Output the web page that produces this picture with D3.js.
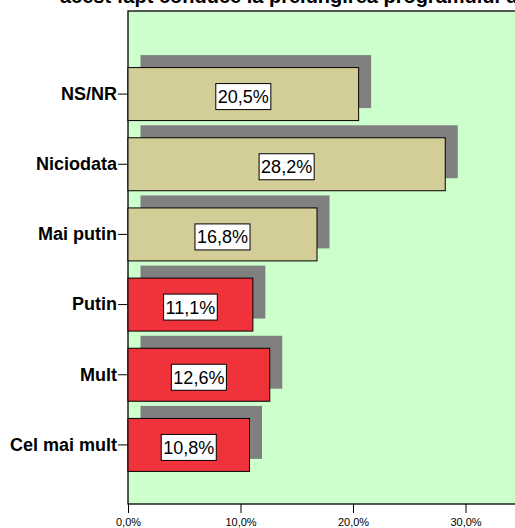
<!DOCTYPE html>
<html>
<head>
<meta charset="utf-8">
<script src="https://cdn.jsdelivr.net/npm/d3@7"></script>
<style>
  body { margin: 0; background: #fff; }
  svg { display: block; font-family: Arial, "Liberation Sans", sans-serif; }
</style>
</head>
<body>
<div id="wrapper"></div>
<script>
const categories = ["NS/NR", "Niciodata", "Mai putin", "Putin", "Mult", "Cel mai mult"]
const values = [20.5, 28.2, 16.8, 11.1, 12.6, 10.8]
const barColors = ["#d3ce97", "#d3ce97", "#d3ce97", "#f0333b", "#f0333b", "#f0333b"]
const xTicks = [0, 10, 20, 30]
const titleText = "acest fapt conduce la prelungirea programului de lucru?"

function drawBarChart() {
    const dimensions = {
        width: 515,
        height: 528,
        margins: { top: 11, right: -60, bottom: 24, left: 128 }
    }
    dimensions.boundedWidth = dimensions.width - dimensions.margins.left - dimensions.margins.right
    dimensions.boundedHeight = dimensions.height - dimensions.margins.top - dimensions.margins.bottom

    const wrapper = d3.select("#wrapper")
        .append("svg")
            .attr("width", dimensions.width)
            .attr("height", dimensions.height)

    const fmt = v => d3.format(".1f")(v).replace(".", ",") + "%"

    // title, mostly cut off at the top like the source
    wrapper.append("text")
        .attr("x", 60)
        .attr("y", 3)
        .attr("font-size", 20)
        .attr("font-weight", "bold")
        .text(titleText)

    const bounds = wrapper.append("g")
        .attr("transform", `translate(${dimensions.margins.left},${dimensions.margins.top})`)

    const xScale = d3.scaleLinear()
        .domain([0, 1])
        .range([0, 1125])

    const yScale = d3.scaleBand()
        .domain(categories)
        .range([48, 469])
        .paddingInner(0.245)
        .paddingOuter(0.1225)

    bounds.append("rect")
        .attr("width", dimensions.boundedWidth)
        .attr("height", dimensions.boundedHeight)
        .attr("fill", "#ccffcc")
        .attr("stroke", "#000")
        .attr("stroke-width", 1.3)

    const shadow = 12.5
    bounds.selectAll(".shadow")
        .data(values)
        .join("rect")
            .attr("class", "shadow")
            .attr("x", shadow)
            .attr("y", (d, i) => yScale(categories[i]) - shadow)
            .attr("width", d => xScale(d / 100))
            .attr("height", yScale.bandwidth())
            .attr("fill", "#808080")

    bounds.selectAll(".bar")
        .data(values)
        .join("rect")
            .attr("class", "bar")
            .attr("x", 0)
            .attr("y", (d, i) => yScale(categories[i]))
            .attr("width", d => xScale(d / 100))
            .attr("height", yScale.bandwidth())
            .attr("fill", (d, i) => barColors[i])
            .attr("stroke", "#000")
            .attr("stroke-width", 1)

    const labels = bounds.selectAll(".lbl")
        .data(values)
        .join("g")
            .attr("class", "lbl")
            .attr("transform", (d, i) =>
                `translate(${xScale(d / 100) / 2},${yScale(categories[i]) + yScale.bandwidth() / 2 + 2.5})`)

    labels.append("text")
        .attr("text-anchor", "middle")
        .attr("dy", "0.36em")
        .attr("font-size", 18)
        .text(fmt)

    labels.each(function() {
        const g = d3.select(this)
        const bb = g.select("text").node().getBBox()
        g.insert("rect", "text")
            .attr("x", bb.x - 2)
            .attr("y", -13)
            .attr("width", bb.width + 4)
            .attr("height", 26)
            .attr("fill", "#fff")
            .attr("stroke", "#000")
            .attr("stroke-width", 1)
    })

    const yAxisGenerator = d3.axisLeft(yScale)
        .tickSize(10)
        .tickPadding(1)
    const yAxis = bounds.append("g")
        .call(yAxisGenerator)
    yAxis.select(".domain").remove()
    yAxis.selectAll("text")
        .attr("font-size", 18)
        .attr("font-weight", "bold")
        .attr("fill", "#000")
        .attr("font-family", "Arial, 'Liberation Sans', sans-serif")

    const xAxisGenerator = d3.axisBottom(xScale)
        .tickValues(xTicks.map(t => t / 100))
        .tickFormat(d => fmt(d * 100))
        .tickSize(9)
        .tickPadding(5)
    const xAxis = bounds.append("g")
        .attr("transform", `translate(0,${dimensions.boundedHeight})`)
        .call(xAxisGenerator)
    xAxis.select(".domain").remove()
    xAxis.selectAll("text")
        .attr("font-size", 11)
        .attr("fill", "#000")
        .attr("font-family", "Arial, 'Liberation Sans', sans-serif")
}

drawBarChart()
</script>
</body>
</html>
